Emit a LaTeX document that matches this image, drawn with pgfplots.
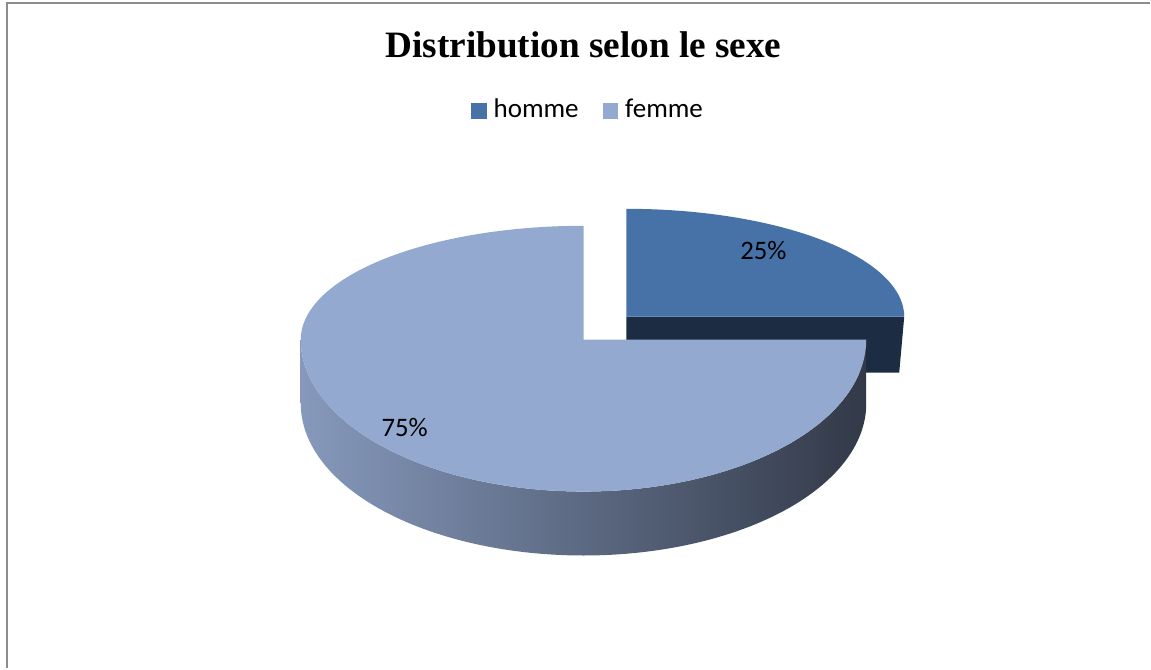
\documentclass[border=0pt]{standalone}
\usepackage{pgfplots}
\pgfplotsset{compat=1.18}
\usepackage{pgfplotstable}
\usepackage{fontspec}
\setmainfont{Carlito}
\newfontfamily\titlefont{Liberation Serif}
\definecolor{hommeC}{HTML}{4672A8}
\definecolor{femmeC}{HTML}{93A9CF}
\definecolor{hommeSide}{HTML}{1C2C42}
\definecolor{femmeL}{HTML}{8699BC}
\definecolor{femmeR}{HTML}{323948}
\definecolor{frameC}{HTML}{8C8C8C}

\pgfplotstableread{
label value
homme 25
femme 75
}\piedata
\pgfplotstablegetelem{0}{value}\of\piedata \let\vH\pgfplotsretval
\pgfplotstablegetelem{1}{value}\of\piedata \let\vF\pgfplotsretval
\pgfmathsetmacro\aSplit{90-360*\vH/(\vH+\vF)}
\pgfmathsetmacro\aEnd{\aSplit+360}
% femme geometry (pixel-like units, y up)
\def\fx{584}\def\fy{329}\def\frx{283}\def\fru{114}\def\frd{152}\def\fd{64}
% homme geometry (exploded slice)
\def\hx{627}\def\hy{352}\def\hrx{278}\def\hru{108}\def\hd{56}
\pgfmathsetmacro\hxr{\hx+\hrx}
\pgfmathsetmacro\hyb{\hy-\hd}
\pgfmathsetmacro\hxrb{\hxr-5}

\begin{document}%
\begin{tikzpicture}
\begin{axis}[
  width=11.51cm, height=6.69cm, scale only axis,
  xmin=0, xmax=1151, ymin=0, ymax=669,
  hide axis, clip=false,
  legend columns=2,
  legend style={at={(axis cs:591,558)}, anchor=center, draw=none, fill=none,
    font=\fontsize{7.7}{9.2}\selectfont,
    /tikz/every even column/.append style={column sep=1.7mm},
    inner sep=0pt},
  legend image code/.code={\fill[#1] (0.1mm,-0.8mm) rectangle (1.65mm,0.75mm);},
]
\path (axis cs:0,0) rectangle (axis cs:1151,669);
% frame
\draw[frameC, line width=0.2mm] (axis cs:7.5,0) -- (axis cs:7.5,665.5) -- (axis cs:1151,665.5);
% title
\node[font=\titlefont\bfseries\fontsize{10.6}{12.7}\selectfont, anchor=base] at (axis cs:584,611) {Distribution selon le sexe};

% homme side (radial face)
\addplot[forget plot, draw=none, fill=hommeSide] coordinates {(\hx,\hy) (\hxr,\hy) (\hxrb,\hyb) (\hx,\hyb)} -- cycle;
% homme top
\addplot[fill=hommeC, draw=none, domain=\aSplit:90, samples=80] ({\hx+\hrx*cos(x)},{\hy+\hru*sin(x)}) -- (axis cs:\hx,\hy) -- cycle;
\addlegendentry{homme}

% femme side (outer, shaded)
\addplot[forget plot, draw=none, left color=femmeL, right color=femmeR, domain=0:2, samples=241, variable=\t]
 ({\fx+\frx*cos(\t<1.0001 ? 180+180*\t : 360-180*(\t-1))},
  {\fy - (\t<1.0001 ? 0 : \fd) + \frd*sin(\t<1.0001 ? 180+180*\t : 360-180*(\t-1))}) -- cycle;
% femme top
\addplot[fill=femmeC, draw=none, domain=90:\aEnd, samples=200] ({\fx+\frx*cos(x)},{\fy+(sin(x)>0 ? \fru : \frd)*sin(x)}) -- (axis cs:\fx,\fy) -- cycle;
\addlegendentry{femme}

% data labels
\node[anchor=base, font=\fontsize{7.6}{9}\selectfont] at (axis cs:764,409) {25\%};
\node[anchor=base, font=\fontsize{7.6}{9}\selectfont] at (axis cs:405,232) {75\%};
\end{axis}
\end{tikzpicture}%
\end{document}
